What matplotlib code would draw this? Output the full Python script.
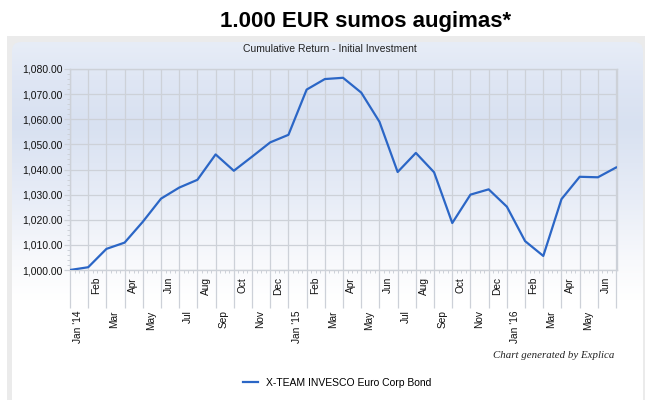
import numpy as np
import matplotlib
matplotlib.use("Agg")
from matplotlib import pyplot as plt
from matplotlib.patches import FancyBboxPatch, Rectangle
from matplotlib.ticker import MultipleLocator, FuncFormatter
from matplotlib.transforms import blended_transform_factory, offset_copy

# monthly values, Jan '14 .. Jul '16
values = [1000.0, 1001.1, 1008.4, 1010.9, 1019.2, 1028.4, 1032.8, 1035.9,
          1046.0, 1039.5, 1045.1, 1050.8, 1053.8, 1071.8, 1076.0, 1076.5,
          1070.6, 1059.0, 1039.0, 1046.6, 1038.9, 1018.7, 1030.0, 1032.1,
          1025.2, 1011.5, 1005.6, 1028.2, 1037.1, 1036.9, 1040.8]
month_labels = ["Jan '14", "Feb", "Mar", "Apr", "May", "Jun", "Jul", "Aug", "Sep", "Oct", "Nov", "Dec",
                "Jan '15", "Feb", "Mar", "Apr", "May", "Jun", "Jul", "Aug", "Sep", "Oct", "Nov", "Dec",
                "Jan '16", "Feb", "Mar", "Apr", "May", "Jun"]
series_name = "X-TEAM INVESCO Euro Corp Bond"

SANS = ["Liberation Sans", "DejaVu Sans"]
W, H = 645, 400

fig = plt.figure(figsize=(W / 100, H / 100), dpi=100)

# background panel with gradient
bg = fig.add_axes([0, 0, 1, 1])
bg.set_xlim(0, W)
bg.set_ylim(H, 0)
bg.axis("off")
bg.add_patch(Rectangle((7, 36), W - 7, H - 36, facecolor="#ebebeb", edgecolor="none", zorder=1))
panel = FancyBboxPatch((12, 42), 631, 420, boxstyle="round,pad=0,rounding_size=9",
                       facecolor="none", edgecolor="none")
bg.add_patch(panel)
stops_y = [42, 80, 125, 200, 260, 300, 400]
stops_c = ["#e7edf7", "#dfe6f4", "#d8e1f1", "#e8edf7", "#f8f9fc", "#ffffff", "#ffffff"]
ys = np.arange(42, 401)
rgb = np.array([matplotlib.colors.to_rgb(c) for c in stops_c])
grad = np.stack([np.interp(ys, stops_y, rgb[:, k]) for k in range(3)], axis=-1)[:, None, :]
im = bg.imshow(grad, extent=(12, 643, 400, 42), aspect="auto", interpolation="bilinear", zorder=2)
im.set_clip_path(panel)

fig.text(366 / W, 1 - 21 / H, "1.000 EUR sumos augimas*", ha="center", va="center",
         fontsize=16, fontweight="bold", family=SANS)
fig.text(330 / W, 1 - 49 / H, "Cumulative Return - Initial Investment", ha="center", va="center",
         fontsize=7.5, family=SANS, color="#222222")
fig.text(614 / W, 1 - 356 / H, "Chart generated by Explica", ha="right", va="center",
         fontsize=7.8, style="italic", family=["Liberation Serif", "DejaVu Serif"], color="#222222")

# main plot
ax = fig.add_axes([70 / W, 1 - 270 / H, 547 / W, 201 / H])
ax.set_facecolor("none")
x = np.arange(len(values))
line, = ax.plot(x, values, color="#2b66c6", lw=1.6, label=series_name, zorder=3)
ax.set_xlim(0, 30.05)
ax.set_ylim(1000, 1080)

grid_c = "#cdd1d8"
ax.xaxis.set_major_locator(MultipleLocator(1))
ax.xaxis.set_minor_locator(MultipleLocator(0.25))
ax.yaxis.set_major_locator(MultipleLocator(10))
ax.yaxis.set_minor_locator(MultipleLocator(2))
ax.yaxis.set_major_formatter(FuncFormatter(lambda v, p: f"{v:,.2f}"))
ax.set_xticklabels([])
ax.grid(True, which="major", color=grid_c, lw=0.9)
ax.tick_params(axis="x", which="major", length=27, color=grid_c, width=0.9)
ax.tick_params(axis="x", which="minor", length=2, color=grid_c, width=0.7)
ax.tick_params(axis="y", which="major", length=4, color=grid_c, width=0.9, pad=1,
               labelsize=7.5, labelcolor="#111111")
ax.tick_params(axis="y", which="minor", length=2, color=grid_c, width=0.7)
for lab in ax.get_yticklabels():
    lab.set_family(SANS)
for sp in ax.spines.values():
    sp.set_color(grid_c)
    sp.set_linewidth(1.0)

# staggered month labels
trans = blended_transform_factory(ax.transData, ax.transAxes)
for i, lab in enumerate(month_labels):
    off = -29 if i % 2 == 0 else -5
    t = offset_copy(trans, fig=fig, x=0, y=off, units="points")
    ax.text(i + 0.45, 0, lab, transform=t, rotation=90, ha="center", va="top",
            fontsize=7.3, family=SANS, color="#111111")

fig.legend(handles=[line], loc="center", bbox_to_anchor=(337 / W, 1 - 383 / H), frameon=False,
           prop={"family": SANS, "size": 7.5}, handlelength=1.5, handletextpad=0.7)

fig.savefig("out.png", dpi=100)
